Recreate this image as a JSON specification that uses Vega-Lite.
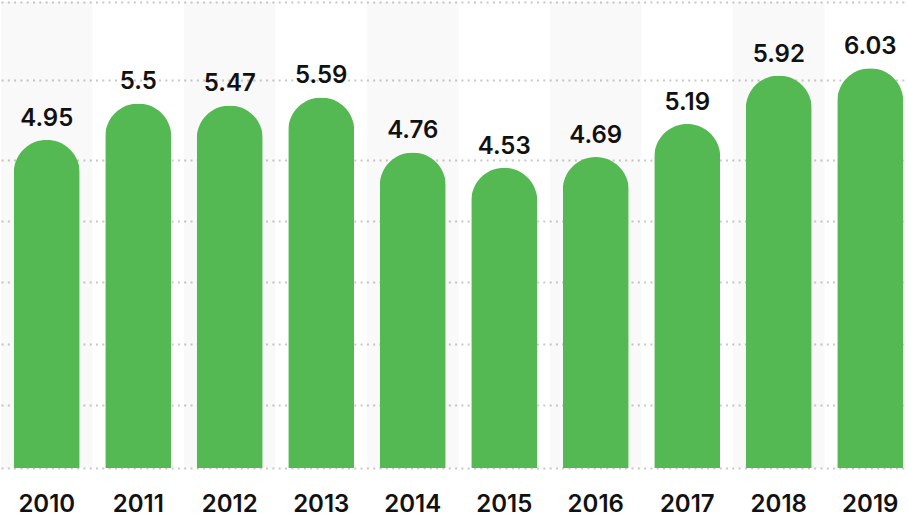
{
  "$schema": "https://vega.github.io/schema/vega-lite/v6.json",
  "width": 908,
  "height": 466,
  "autosize": {"type": "none"},
  "padding": {"top": 2, "left": 0, "right": 0, "bottom": 49},
  "background": "white",
  "config": {"view": {"stroke": null}, "font": "Inter"},
  "data": {
    "values": [
      {"year": "2010", "value": 4.95},
      {"year": "2011", "value": 5.5},
      {"year": "2012", "value": 5.47},
      {"year": "2013", "value": 5.59},
      {"year": "2014", "value": 4.76},
      {"year": "2015", "value": 4.53},
      {"year": "2016", "value": 4.69},
      {"year": "2017", "value": 5.19},
      {"year": "2018", "value": 5.92},
      {"year": "2019", "value": 6.03}
    ]
  },
  "encoding": {
    "x": {
      "field": "year",
      "type": "ordinal",
      "scale": {"range": [1, 916], "paddingInner": 0, "paddingOuter": 0},
      "axis": {
        "title": null,
        "labelAngle": 0,
        "domain": false,
        "ticks": false,
        "tickSize": 0,
        "grid": false,
        "labelPadding": 43,
        "labelBaseline": "alphabetic",
        "labelFontSize": 24,
        "labelFontWeight": 600,
        "labelColor": "#111111",
        "labelFont": "Inter"
      }
    },
    "y": {
      "field": "value",
      "type": "quantitative",
      "scale": {"domain": [0, 7.03], "nice": false, "zero": true},
      "axis": {
        "title": null,
        "labels": false,
        "ticks": false,
        "domain": false,
        "grid": true,
        "values": [0, 0.946, 1.876, 2.805, 3.721, 4.652, 5.848, 7.03],
        "gridColor": "#c8c8c8",
        "gridDash": [2, 4.3],
        "gridWidth": 2
      }
    }
  },
  "layer": [
    {
      "transform": [{"filter": "toNumber(datum.year) % 2 == 0"}],
      "mark": {"type": "bar", "color": "#000000", "opacity": 0.025},
      "encoding": {
        "y": {"datum": 7.03, "type": "quantitative"},
        "y2": {"datum": 0}
      }
    },
    {
      "mark": {"type": "bar", "width": 66, "color": "#54b953", "cornerRadiusEnd": 33}
    },
    {
      "mark": {"type": "text", "dy": -14, "baseline": "alphabetic", "fontSize": 24, "fontWeight": 600, "color": "#111111", "font": "Inter"},
      "encoding": {"text": {"field": "value", "type": "quantitative"}}
    }
  ]
}
